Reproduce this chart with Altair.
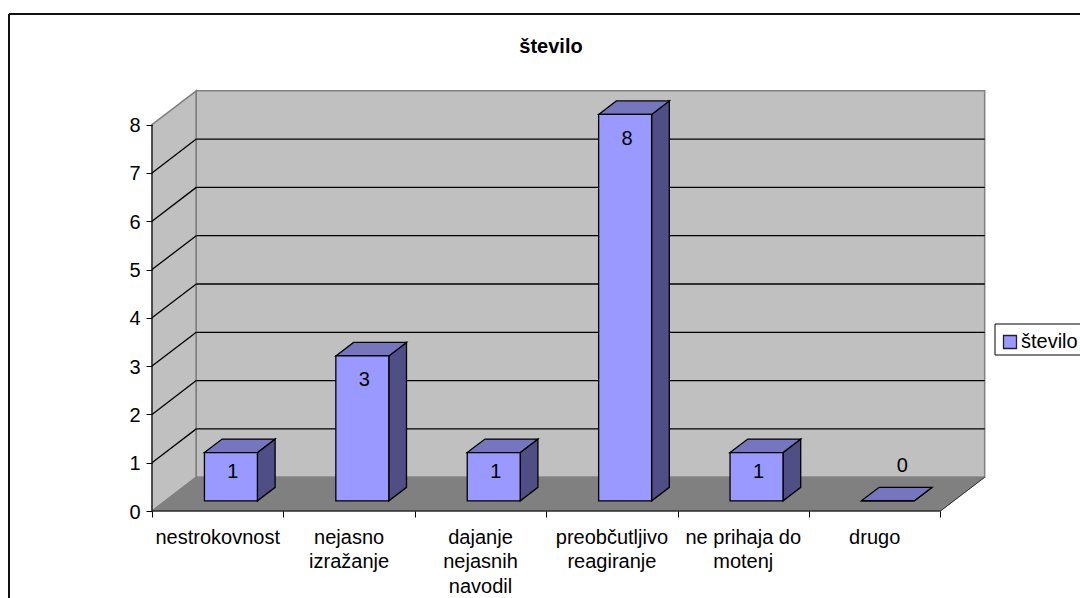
import json
import altair as alt
import pandas as pd

categories = ["nestrokovnost", "nejasno\nizražanje", "dajanje\nnejasnih\nnavodil",
              "preobčutljivo\nreagiranje", "ne prihaja do\nmotenj", "drugo"]
values = [1, 3, 1, 8, 1, 0]
series_name = "število"
y_ticks = [0, 1, 2, 3, 4, 5, 6, 7, 8]
x_ticks = [0, 1, 2, 3, 4, 5, 6]

# Oblique projection: one unit of depth shifts a point right and up.
SHIFT_X, SHIFT_Y = 0.337, 0.70
BAR_GAP = 0.298
BAR_WIDTH = 0.403
DEPTH_FRONT, DEPTH_BACK = 0.30, 0.70
UNIT_X, UNIT_Y = 131.4, 48.3
W, H = 928, 420
N, TOP = len(categories), max(y_ticks)

FONT = "Liberation Sans"
FRONT, SIDE, CAP = "#9999FF", "#4F4F85", "#7676BF"
WALL, FLOOR, EDGE = "#C0C0C0", "#808080", "#808080"
LINE = 1.3

x_scale = alt.Scale(domain=[0, W / UNIT_X], range=[0, W], nice=False, zero=False)
y_scale = alt.Scale(domain=[0, H / UNIT_Y], range=[H, 0], nice=False, zero=False)
dx_bar = (DEPTH_BACK - DEPTH_FRONT) * SHIFT_X
dy_bar = (DEPTH_BACK - DEPTH_FRONT) * SHIFT_Y

label_expr = "({0})[datum.value] || ''".format(json.dumps([c.split("\n") for c in categories], ensure_ascii=False))
x_axis = alt.Axis(
    values=x_ticks, title=None, grid=False, domain=False, tickColor="black",
    tickSize=6, labelOffset=UNIT_X / 2 - 0.5, labelExpr=label_expr, labelAngle=0,
    labelFont=FONT, labelFontSize=20, labelColor="black", labelPadding=10,
    labelLineHeight=24.5, labelAlign="center", labelBaseline="top",
    labelOverlap=False, labelFlush=False, zindex=1)
y_axis = alt.Axis(
    values=y_ticks, title=None, grid=False, domain=False, tickColor="black",
    tickSize=6, format="d", labelFont=FONT, labelFontSize=20, labelColor="black",
    labelPadding=6, labelOffset=1, zindex=1)


def label_shift(v):
    # Labels sit inside tall bars, nearer the cap on short ones, above empty ones.
    if v == 0:
        return 0.11, 0.72
    if v < 3:
        return 0.015, -0.40
    return 0.015, -0.50


fronts, sides, caps, labels = [], [], [], []
for i, v in enumerate(values):
    x0 = i + BAR_GAP + DEPTH_FRONT * SHIFT_X
    x1 = x0 + BAR_WIDTH
    base = DEPTH_FRONT * SHIFT_Y
    top = v + base
    fronts.append(dict(x=x0, x2=x1, y=base, y2=top, series=series_name))
    sides += [dict(bar=i, x=x1, lo=base, hi=top),
              dict(bar=i, x=x1 + dx_bar, lo=base + dy_bar, hi=top + dy_bar)]
    caps += [dict(bar=i, x=x0, lo=top, hi=top),
             dict(bar=i, x=x0 + dx_bar, lo=top, hi=top + dy_bar),
             dict(bar=i, x=x1, lo=top, hi=top + dy_bar),
             dict(bar=i, x=x1 + dx_bar, lo=top + dy_bar, hi=top + dy_bar)]
    ox, oy = label_shift(v)
    labels.append(dict(x=(x0 + x1) / 2 + ox, y=top + oy, text=str(v)))

X = alt.X("x:Q", scale=x_scale, axis=x_axis)
Y = alt.Y("y:Q", scale=y_scale, axis=y_axis)


def polygon(rows, fill, stroke, width=1.0):
    return alt.Chart(pd.DataFrame(rows)).mark_area(
        fill=fill, stroke=stroke, strokeWidth=width, strokeJoin="miter", opacity=1
    ).encode(
        x=X,
        y=alt.Y("hi:Q", scale=y_scale, axis=y_axis, stack=None),
        y2="lo:Q",
        detail="bar:N",
    )


# Room: left wall, floor and back wall.
left_wall = polygon(
    [dict(bar=0, x=0, lo=0, hi=TOP), dict(bar=0, x=SHIFT_X, lo=SHIFT_Y, hi=TOP + SHIFT_Y)],
    WALL, EDGE, 1.5)
floor = polygon(
    [dict(bar=0, x=0, lo=0, hi=0),
     dict(bar=0, x=SHIFT_X, lo=0, hi=SHIFT_Y),
     dict(bar=0, x=N, lo=0, hi=SHIFT_Y),
     dict(bar=0, x=N + SHIFT_X, lo=SHIFT_Y, hi=SHIFT_Y)],
    FLOOR, EDGE, 1.0)
back_wall = alt.Chart(pd.DataFrame([dict(x=SHIFT_X, x2=N + SHIFT_X, y=SHIFT_Y, y2=TOP + SHIFT_Y)])).mark_rect(
    fill=WALL, stroke=EDGE, strokeWidth=1.5
).encode(x=X, x2="x2:Q", y=Y, y2="y2:Q")

# Gridlines run across the back wall and down the left wall.
grid_levels = [t for t in y_ticks if 0 < t < TOP]
back_grid = alt.Chart(pd.DataFrame(
    [dict(x=SHIFT_X, x2=N + SHIFT_X, y=t + SHIFT_Y) for t in grid_levels]
)).mark_rule(color="black", strokeWidth=LINE).encode(x=X, x2="x2:Q", y=Y)
wall_grid = alt.Chart(pd.DataFrame(
    [r for t in grid_levels for r in (dict(level=t, x=0, y=t), dict(level=t, x=SHIFT_X, y=t + SHIFT_Y))]
)).mark_line(color="black", strokeWidth=LINE).encode(x=X, y=Y, detail="level:N")

# The right edge of the floor reads as a dark line against the white page.
floor_edge = alt.Chart(pd.DataFrame(
    [dict(x=N, y=0), dict(x=N + SHIFT_X, y=SHIFT_Y)]
)).mark_line(color="#333333", strokeWidth=1).encode(x=X, y=Y)

# Axis lines stop at the last tick, short of the plot's outer bounds.
axis_x_line = alt.Chart(pd.DataFrame([dict(x=0, x2=N, y=0)])).mark_rule(
    color="black", strokeWidth=1).encode(x=X, x2="x2:Q", y=Y)
axis_y_line = alt.Chart(pd.DataFrame([dict(x=0, y=0, y2=TOP)])).mark_rule(
    color="black", strokeWidth=1).encode(x=X, y=Y, y2="y2:Q")

# Bars: side, cap, then the front face that carries the legend colour.
bar_sides = polygon(sides, SIDE, "black", LINE)
bar_caps = polygon(caps, CAP, "black", LINE)
bar_fronts = alt.Chart(pd.DataFrame(fronts)).mark_rect(stroke="black", strokeWidth=LINE).encode(
    x=X, x2="x2:Q", y=Y, y2="y2:Q",
    color=alt.Color("series:N", scale=alt.Scale(domain=[series_name], range=[FRONT]),
                    legend=alt.Legend(
                        title=None, orient="none", legendX=846, legendY=239, padding=2,
                        symbolType="square", symbolSize=169, symbolStrokeColor="#222222",
                        symbolStrokeWidth=1.3, symbolFillColor=FRONT,
                        labelFont=FONT, labelFontSize=20, labelColor="black", labelOffset=1)),
)
bar_labels = alt.Chart(pd.DataFrame(labels)).mark_text(
    font=FONT, fontSize=20, color="black", align="center", baseline="middle"
).encode(x=X, y=Y, text="text:N")

# Legend box, open past the page's right edge.
legend_box = alt.Chart(pd.DataFrame({"a": [0]})).mark_rect(
    fill="white", stroke="black", strokeWidth=1
).encode(x=alt.value(843), x2=alt.value(W + 10), y=alt.value(233), y2=alt.value(264))

# Outer chart frame; the right and bottom edges fall outside the page.
frame_top = alt.Chart(pd.DataFrame({"a": [0]})).mark_rule(color="#111111", strokeWidth=2).encode(
    x=alt.value(-143), x2=alt.value(W), y=alt.value(-77))
frame_left = alt.Chart(pd.DataFrame({"a": [0]})).mark_rule(color="#111111", strokeWidth=2).encode(
    x=alt.value(-143), y=alt.value(-77), y2=alt.value(H + 87))

chart = alt.layer(
    left_wall, back_wall, floor, floor_edge, wall_grid, back_grid, axis_x_line, axis_y_line,
    bar_sides, bar_caps, bar_fronts, bar_labels, legend_box, frame_top, frame_left,
).properties(
    width=W, height=H,
    padding={"left": 152, "top": 91, "right": 0, "bottom": 87},
    autosize=alt.AutoSizeParams(type="none"),
    title=alt.TitleParams(series_name, anchor="middle", dx=-65, dy=44, offset=0, font=FONT,
                          fontSize=20, fontWeight="bold", color="black"),
    background="white",
).configure_view(stroke=None)

chart.save("out.html", embed_options={"renderer": "svg", "actions": False})
